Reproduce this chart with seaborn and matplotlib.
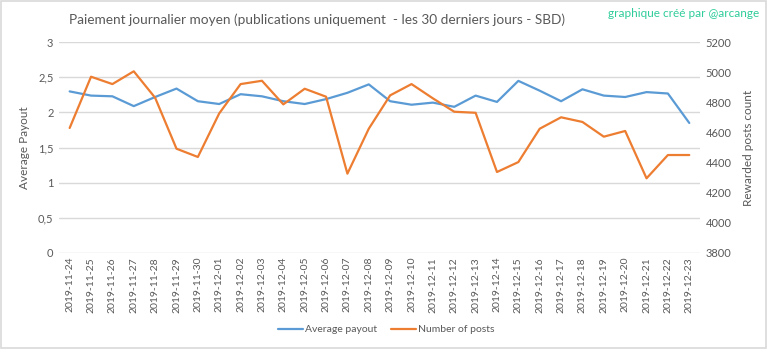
import matplotlib
matplotlib.use("Agg")
import matplotlib.pyplot as plt
import seaborn as sns
import pandas as pd
import numpy as np
from matplotlib.lines import Line2D
from matplotlib.patches import Rectangle

dates = ["2019-11-24", "2019-11-25", "2019-11-26", "2019-11-27", "2019-11-28",
         "2019-11-29", "2019-11-30", "2019-12-01", "2019-12-02", "2019-12-03",
         "2019-12-04", "2019-12-05", "2019-12-06", "2019-12-07", "2019-12-08",
         "2019-12-09", "2019-12-10", "2019-12-11", "2019-12-12", "2019-12-13",
         "2019-12-14", "2019-12-15", "2019-12-16", "2019-12-17", "2019-12-18",
         "2019-12-19", "2019-12-20", "2019-12-21", "2019-12-22", "2019-12-23"]
avg_payout = [2.30, 2.24, 2.23, 2.09, 2.22, 2.34, 2.16, 2.12, 2.26, 2.23,
              2.16, 2.12, 2.19, 2.28, 2.40, 2.16, 2.11, 2.14, 2.08, 2.24,
              2.15, 2.45, 2.31, 2.16, 2.33, 2.24, 2.22, 2.29, 2.27, 1.85]
num_posts = [4630, 4971, 4922, 5007, 4831, 4492, 4437, 4727, 4922, 4944,
             4787, 4891, 4838, 4326, 4625, 4847, 4922, 4827, 4738, 4731,
             4337, 4403, 4625, 4701, 4670, 4572, 4610, 4295, 4450, 4450]
left_ticks = [0, 0.5, 1, 1.5, 2, 2.5, 3]
left_tick_labels = ["0", "0,5", "1", "1,5", "2", "2,5", "3"]
right_ticks = [3800, 4000, 4200, 4400, 4600, 4800, 5000, 5200]

sns.set_style("white")
plt.rcParams['font.family'] = ['Lato', 'DejaVu Sans']

BLUE = "#5b9bd5"
ORANGE = "#ed7d31"
GRAY = "#595959"
GRID = "#d9d9d9"

df = pd.DataFrame({"pos": np.arange(len(dates)), "date": dates,
                   "payout": avg_payout, "posts": num_posts})

fig = plt.figure(figsize=(7.68, 3.49), dpi=100)
ax = fig.add_axes([0.0768, 0.2759, 0.8346, 0.6029])
ax2 = ax.twinx()

sns.lineplot(data=df, x="pos", y="payout", ax=ax, color=BLUE, linewidth=1.6)
sns.lineplot(data=df, x="pos", y="posts", ax=ax2, color=ORANGE, linewidth=1.6)

ax.set_xlim(-0.5, len(dates) - 0.5)
ax.set_ylim(0, 3)
ax2.set_ylim(3800, 5200)
ax.set_yticks(left_ticks)
ax.set_yticklabels(left_tick_labels)
ax2.set_yticks(right_ticks)
ax.set_xticks(df["pos"])
ax.set_xticklabels(dates, rotation=90)

for a in (ax, ax2):
    for s in a.spines.values():
        s.set_visible(False)
    a.tick_params(axis="both", length=0, labelsize=8, labelcolor=GRAY, pad=4)
ax.tick_params(axis="x", labelsize=7.5, pad=3)

ax.grid(axis="y", color=GRID, linewidth=1)
ax.set_axisbelow(True)
ax2.grid(False)

ax.set_xlabel("")
ax.set_ylabel("Average Payout", color=GRAY, fontsize=8.5, labelpad=6)
ax2.set_ylabel("Rewarded posts count", color=GRAY, fontsize=8.5, labelpad=8)

fig.text(0.413, 0.943, "Paiement journalier moyen (publications uniquement  - les 30 derniers jours - SBD)",
         ha="center", va="center", fontsize=9.8, color=GRAY)
fig.text(0.988, 0.962, "graphique créé par @arcange", ha="right", va="center",
         fontsize=8.5, color="#2ecc9a")

handles = [Line2D([], [], color=BLUE, linewidth=1.6),
           Line2D([], [], color=ORANGE, linewidth=1.6)]
fig.legend(handles, ["Average payout", "Number of posts"], loc="center",
           bbox_to_anchor=(0.503, 0.055), ncol=2, frameon=False, fontsize=7.5,
           labelcolor=GRAY, handlelength=2.4, handletextpad=0.2, columnspacing=1.4)

fig.patches.append(Rectangle((0.001, 0.002), 0.997, 0.995, transform=fig.transFigure,
                             fill=False, edgecolor=GRID, linewidth=1.2))

fig.savefig("out.png", dpi=100)
